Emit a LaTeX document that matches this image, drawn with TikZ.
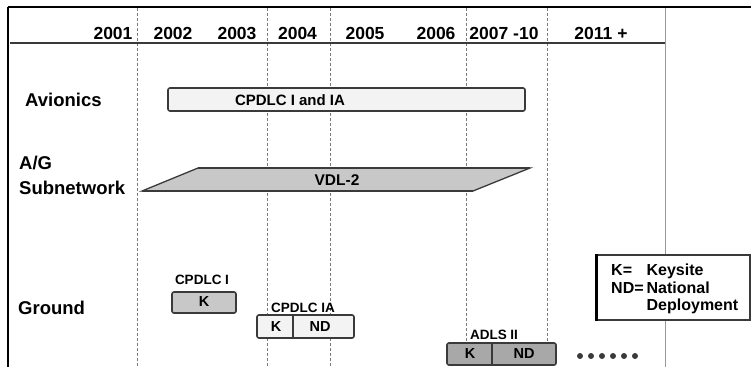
\documentclass[tikz,border=0pt]{standalone}
\usepackage{fontspec}
\setmainfont{Liberation Sans}
\usetikzlibrary{positioning}
\definecolor{edge}{HTML}{3A3A3A}
\definecolor{grid}{HTML}{7A7A7A}
\definecolor{lite}{HTML}{F3F3F3}
\definecolor{mid}{HTML}{C8C8C8}
\definecolor{dark}{HTML}{A8A8A8}
\tikzset{
  yr/.style     = {font=\fontsize{17.5}{18}\selectfont\bfseries, inner sep=0pt},
  rowlbl/.style = {font=\fontsize{18.5}{19}\selectfont\bfseries, anchor=west,
                   inner sep=0pt},
  tag/.style    = {font=\fontsize{13.5}{14}\selectfont\bfseries, inner sep=0pt},
  txt/.style    = {font=\fontsize{14.5}{15}\selectfont\bfseries, inner sep=0pt},
  bar/.style    = {rectangle, rounded corners=2pt, draw=edge, line width=1.6pt,
                   fill=#1, inner sep=0pt},
  gridln/.style = {draw=grid, line width=0.9pt, dash pattern=on 3pt off 2pt},
}

\begin{document}
\begin{tikzpicture}[x=1pt, y=-1pt]
  \useasboundingbox (0,0) rectangle (751,367);

  % time grid
  \foreach \x in {137, 267, 330, 466, 547}
    \draw[gridln] (\x,8) -- (\x,367);
  \draw[draw=black!40, line width=1pt] (665,8) -- (665,367);
  \draw[black, line width=2.2pt] (8,7) -- (751,7);
  \draw[black, line width=2.2pt] (8,7) -- (8,367);
  \draw[edge, line width=2pt] (10,43) -- (665,43);

  % years
  \node[yr] (y2001) at (113,33)   {2001};
  \node[yr] (y2002) at (173,33)   {2002};
  \node[yr] (y2003) at (237,33)   {2003};
  \node[yr] (y2004) at (297.5,33) {2004};
  \node[yr] (y2005) at (365,33)   {2005};
  \node[yr] (y2006) at (436,33)   {2006};
  \node[yr] (y2007) at (504,33)   {2007 -10};
  \node[yr] (y2011) at (601,33)   {2011 +};

  % rows
  \node[rowlbl] (avi)  at (25,100) {Avionics};
  \node[rowlbl] (ag)   at (19,163) {A/G};
  \node[rowlbl] (subn) at (19,188) {Subnetwork};
  \node[rowlbl] (gnd)  at (18,308) {Ground};

  % avionics
  \node[bar=lite, minimum width=357pt, minimum height=23pt] (avbar) at (346.5,99.5) {};
  \node[txt, font=\fontsize{15}{15}\selectfont\bfseries] (avtxt) at (290,100) {CPDLC I and IA};

  % subnetwork
  \filldraw[fill=mid, draw=edge, line width=1.3pt]
    (142,191) -- (198,168) -- (530,168) -- (473,191) -- cycle;
  \draw[edge, line width=2.4pt] (198,168) -- (530,168);
  \draw[edge, line width=2.4pt] (142,191) -- (473,191);
  \node[txt, font=\fontsize{15.5}{16}\selectfont\bfseries] (vdl) at (337,180) {VDL-2};

  % ground
  \node[tag] (cpi) at (202,280) {CPDLC I};
  \node[bar=mid, minimum width=64pt, minimum height=21pt] (kbox) at (204,302.5) {};
  \node[txt] (kk) at (204,302) {K};

  \node[tag] (cpia) at (303,308) {CPDLC IA};
  \node[bar=lite, minimum width=97pt, minimum height=23pt] (iabox) at (305.5,326.5) {};
  \draw[edge, line width=1.2pt] (293,0 |- iabox.north) -- (293,0 |- iabox.south);
  \node[txt] (iak)  at (276,327) {K};
  \node[txt] (iand) at (320,327) {ND};

  \node[tag] (adls) at (494,335) {ADLS II};
  \node[bar=dark, minimum width=109pt, minimum height=22pt] (adbox) at (501.5,354) {};
  \draw[edge, line width=1.2pt] (492,0 |- adbox.north) -- (492,0 |- adbox.south);
  \node[txt] (adk)  at (470,354) {K};
  \node[txt] (adnd) at (524,354) {ND};

  \foreach \i in {0,...,5}
    \fill[edge] (580+11*\i,356) circle (3pt);

  % legend
  \node[rectangle, draw=edge, line width=2pt, fill=white, minimum width=153pt,
        minimum height=65pt] (legbox) at (673.5,287.5) {};
  \draw[black, line width=3pt] (legbox.north west) -- (legbox.south west);
  \node[anchor=west, inner sep=0pt, font=\fontsize{16}{17.5}\selectfont\bfseries]
    (legtxt) at (611,289.5)
    {\begin{tabular}{@{}l@{\hspace{3pt}}l@{}}
       K= & Keysite\\
       ND= & National\\
           & Deployment
     \end{tabular}};
\end{tikzpicture}
\end{document}
